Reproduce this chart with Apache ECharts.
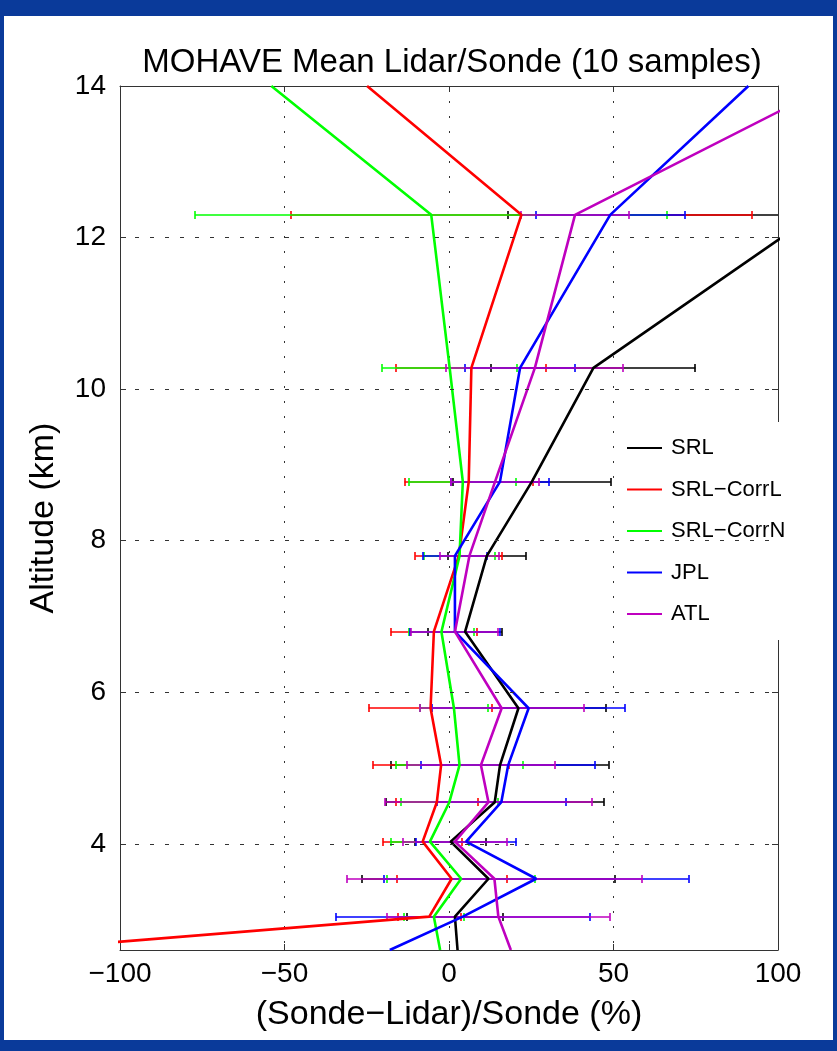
<!DOCTYPE html>
<html><head><meta charset="utf-8">
<script src="https://cdn.jsdelivr.net/npm/echarts@6/dist/echarts.min.js"></script>
<style>
html,body{margin:0;padding:0;background:#0a3a9a;width:837px;height:1051px;overflow:hidden}
#panel{position:absolute;left:4px;top:16px;width:829px;height:1024px;background:#fff}
#chart{position:absolute;left:0;top:0;width:837px;height:1051px}
</style></head><body>
<div id="panel"></div><div id="chart"></div>
<script>
// ---- data ----
const altitudes = [3.04, 3.54, 4.03, 4.55, 5.04, 5.79, 6.80, 7.80, 8.78, 10.28, 12.30];
const altBottom = 2.6;
const altTop = 14.0;
const seriesNames = ['SRL', 'SRL\u2212CorrL', 'SRL\u2212CorrN', 'JPL', 'ATL'];
const seriesColors = ['#000000', '#ff0000', '#00ff00', '#0000ff', '#bf00bf'];

const srlMean   = [1.8, 12.0, 0.5, 13.9, 15.5, 21.1, 4.9, 11.5, 25.2, 43.9, 111.0];
const srlErr    = [14.5, 38.4, 10.7, 33.2, 33.0, 26.7, 11.2, 11.9, 24.0, 31.0, 93.0];
const srlEnds   = [2.6, 166.0];   // [at altBottom, at altTop]

const corrLMean = [-6.0, 0.8, -8.0, -3.7, -2.4, -5.6, -4.6, 3.0, 6.0, 6.8, 22.0];
const corrLErr  = [9.5, 16.7, 12.1, 12.5, 20.75, 18.8, 13.15, 13.25, 19.5, 22.8, 70.0];
const corrLEnds = [-131.0, -24.9];

const corrNMean = [-4.6, 3.7, -5.8, 0.1, 3.2, 1.5, -2.3, 3.2, 4.2, 0.2, -5.4];
const corrNErr  = [9.1, 22.5, 11.9, 14.7, 19.2, 10.4, 9.9, 10.9, 16.3, 20.5, 71.8];
const corrNEnds = [-2.7, -54.0];

const jplMean   = [4.2, 26.5, 5.2, 15.9, 18.0, 24.2, 1.8, 1.8, 15.5, 21.6, 49.0];
const jplErr    = [38.6, 46.3, 15.3, 19.6, 26.4, 29.3, 13.6, 9.6, 15.0, 16.6, 22.6];
const jplEnds   = [-18.0, 91.0];

const atlMean   = [15.0, 13.8, 1.8, 12.0, 9.7, 16.0, 1.8, 6.2, 14.0, 26.1, 38.3];
const atlErr    = [33.8, 44.8, 15.7, 31.5, 22.6, 24.9, 13.2, 8.9, 13.5, 26.9, 16.3];
const atlEnds   = [18.8, 115.5];

const xTickValues = [-100, -50, 0, 50, 100];
const yTickValues = [4, 6, 8, 10, 12, 14];
const yGridValues = [4, 6, 8, 10, 12];

const titleText = 'MOHAVE Mean Lidar/Sonde (10 samples)';
const xName = '(Sonde\u2212Lidar)/Sonde (%)';
const yName = 'Altitude (km)';

// ---- build ----
const FONT = 'Liberation Sans, Arial, Helvetica, sans-serif';
const means = [srlMean, corrLMean, corrNMean, jplMean, atlMean];
const errs = [srlErr, corrLErr, corrNErr, jplErr, atlErr];
const ends = [srlEnds, corrLEnds, corrNEnds, jplEnds, atlEnds];

function errRender(color) {
  return function (params, api) {
    const lo = api.value(0), hi = api.value(1), y = api.value(2);
    const p1 = api.coord([lo, y]), p2 = api.coord([hi, y]);
    const cs = params.coordSys;
    const xmin = cs.x, xmax = cs.x + cs.width;
    const a = Math.max(p1[0], xmin), b = Math.min(p2[0], xmax);
    const yy = Math.round(p1[1]);
    const st = { stroke: color, lineWidth: 1.6 };
    const h = 4;
    const children = [];
    if (b > a) children.push({ type: 'line', shape: { x1: a, y1: yy, x2: b, y2: yy }, style: st });
    if (p1[0] >= xmin && p1[0] <= xmax) children.push({ type: 'line', shape: { x1: Math.round(p1[0]), y1: yy - h, x2: Math.round(p1[0]), y2: yy + h }, style: st });
    if (p2[0] >= xmin && p2[0] <= xmax) children.push({ type: 'line', shape: { x1: Math.round(p2[0]), y1: yy - h, x2: Math.round(p2[0]), y2: yy + h }, style: st });
    return { type: 'group', children: children };
  };
}

const series = [];
series.push({
  name: '_grid', type: 'line', data: [[-1000, -1000]], symbol: 'none', silent: true,
  lineStyle: { width: 0 },
  markLine: {
    silent: true, symbol: ['none', 'none'], label: { show: false },
    lineStyle: { type: [4, 11], color: '#333', width: 1 },
    emphasis: { disabled: true },
    data: yGridValues.map(v => ({ yAxis: v }))
  }
});
for (let i = 0; i < seriesNames.length; i++) {
  const errData = altitudes.map((a, k) => [means[i][k] - errs[i][k], means[i][k] + errs[i][k], a]);
  series.push({
    name: seriesNames[i] + ' err', type: 'custom', renderItem: errRender(seriesColors[i]),
    data: errData, encode: { x: [0, 1], y: 2 }, silent: true
  });
  const lineData = [[ends[i][0], altBottom]]
    .concat(altitudes.map((a, k) => [means[i][k], a]))
    .concat([[ends[i][1], altTop]]);
  series.push({
    name: seriesNames[i], type: 'line', data: lineData, symbol: 'none', showSymbol: false,
    color: seriesColors[i], lineStyle: { color: seriesColors[i], width: 2.6 }, clip: true, silent: true
  });
}

const axisLineStyle = { color: '#333', width: 1 };
const option = {
  animation: false,
  backgroundColor: 'transparent',
  title: {
    text: titleText, left: 447, top: 41, textAlign: 'center',
    textStyle: { fontFamily: FONT, fontSize: 33, fontWeight: 'normal', color: '#000' }
  },
  legend: {
    data: seriesNames, orient: 'vertical', left: 615, top: 422,
    padding: [15, 22, 15, 12], itemGap: 19.5, itemWidth: 35, itemHeight: 2,
    icon: 'rect',
    backgroundColor: '#ffffff',
    textStyle: { fontFamily: FONT, fontSize: 22, color: '#000', padding: [0, 0, 0, 4] }
  },
  grid: { left: 120, top: 86, width: 658, height: 864 },
  xAxis: [{
    type: 'value', min: -100, max: 100, interval: 50, position: 'bottom',
    axisLine: { show: true, onZero: false, lineStyle: axisLineStyle },
    axisTick: { show: true, inside: true, length: 6, lineStyle: axisLineStyle },
    axisLabel: { fontFamily: FONT, fontSize: 28, color: '#000', margin: 10, showMinLabel: true, showMaxLabel: true,
      formatter: v => (v < 0 ? '\u2212' + (-v) : '' + v) },
    splitLine: { show: true, lineStyle: { type: [2, 13], color: '#333', width: 1 } },
    name: xName, nameLocation: 'middle', nameGap: 48,
    nameTextStyle: { fontFamily: FONT, fontSize: 34, color: '#000' }
  }, {
    type: 'value', min: -100, max: 100, interval: 50, position: 'top',
    axisLine: { show: true, onZero: false, lineStyle: axisLineStyle },
    axisTick: { show: true, inside: true, length: 6, lineStyle: axisLineStyle },
    axisLabel: { show: false }, splitLine: { show: false }
  }],
  yAxis: [{
    type: 'value', min: altBottom, max: altTop, position: 'left',
    axisLine: { show: true, onZero: false, lineStyle: axisLineStyle },
    axisTick: { show: true, inside: true, length: 6, customValues: yTickValues, lineStyle: axisLineStyle },
    axisLabel: { fontFamily: FONT, fontSize: 28, color: '#000', margin: 14, customValues: yTickValues },
    splitLine: { show: false },
    name: yName, nameLocation: 'middle', nameGap: 59, nameRotate: 90,
    nameTextStyle: { fontFamily: FONT, fontSize: 34, color: '#000' }
  }, {
    type: 'value', min: altBottom, max: altTop, position: 'right',
    axisLine: { show: true, onZero: false, lineStyle: axisLineStyle },
    axisTick: { show: true, inside: true, length: 6, customValues: yTickValues, lineStyle: axisLineStyle },
    axisLabel: { show: false }, splitLine: { show: false }
  }],
  series: series
};

const chart = echarts.init(document.getElementById('chart'), null, { renderer: 'canvas' });
chart.setOption(option);
</script>
</body></html>
